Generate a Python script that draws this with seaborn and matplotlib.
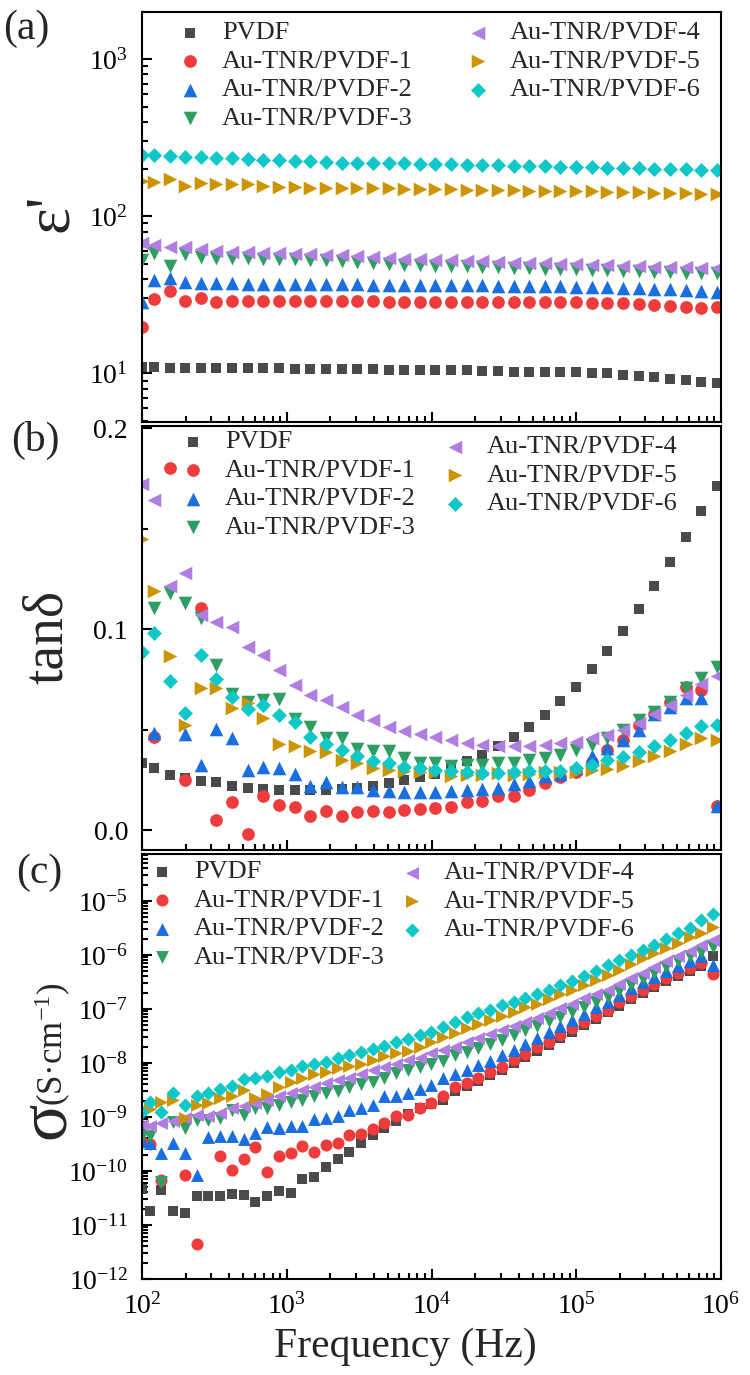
import numpy as np
import matplotlib
matplotlib.use('Agg')
import matplotlib.pyplot as plt
import seaborn as sns
from matplotlib.ticker import LogLocator, NullFormatter, MultipleLocator, FormatStrFormatter

# Sample names, colours and markers
names = ['PVDF', 'Au-TNR/PVDF-1', 'Au-TNR/PVDF-2', 'Au-TNR/PVDF-3',
         'Au-TNR/PVDF-4', 'Au-TNR/PVDF-5', 'Au-TNR/PVDF-6']
colors = ['#4a4a4a', '#ee3b3b', '#1a6fe0', '#2e9e62', '#b07ee0', '#cc9400', '#10c8c8']
markers = ['s', 'o', '^', 'v', '<', '>', 'D']

# Frequency grid for panels (a) and (b), Hz
freq_ab = [100, 121, 155, 199, 255, 327, 420, 538, 690, 885,
           1135, 1455, 1866, 2393, 3069, 3936, 5047, 6471, 8299, 10641,
           13646, 17498, 22439, 28774, 36898, 47315, 60674, 77804, 99770, 127938,
           164059, 210378, 269774, 345939, 443609, 568853, 729450, 935400]

# Frequency grid for panel (c), Hz
freq_c = [100, 113, 136, 164, 198, 238, 287, 346, 417, 503,
          606, 731, 881, 1062, 1280, 1542, 1858, 2242, 2702, 3258,
          3926, 4732, 5702, 6871, 8279, 9977, 12023, 14488, 17498, 21086,
          25410, 30620, 36898, 44463, 53580, 64565, 77804, 93756, 112980, 136458,
          164437, 198153, 238781, 287740, 346737, 417830, 503501, 606736, 731139, 881049]

# (a) dielectric constant
eps_pvdf = [11.0, 10.9, 10.8, 10.8, 10.8, 10.8, 10.8, 10.8, 10.8, 10.8,
            10.7, 10.7, 10.7, 10.7, 10.65, 10.6, 10.55, 10.5, 10.5, 10.5,
            10.5, 10.5, 10.3, 10.3, 10.25, 10.25, 10.2, 10.2, 10.2, 10.1,
            10.0, 9.76, 9.66, 9.51, 9.2, 9.06, 8.85, 8.64]
eps_1 = [19.7, 29.6, 33.6, 29.0, 30.4, 28.5, 29.0, 29.0, 29.0, 29.0,
         28.9, 28.9, 28.9, 28.8, 28.8, 28.8, 28.6, 28.6, 28.6, 28.6,
         28.6, 28.6, 28.6, 28.6, 28.5, 28.5, 28.5, 28.4, 28.3, 28.2,
         28.0, 27.9, 27.6, 27.2, 26.9, 26.5, 25.9, 26.5]
eps_2 = [28.6, 39.4, 40.4, 38.4, 37.5, 37.4, 37.4, 37.2, 37.2, 37.2,
         37.0, 37.0, 37.0, 36.9, 36.8, 36.6, 36.5, 36.5, 36.5, 36.4,
         36.4, 36.3, 36.3, 36.2, 36.1, 36.0, 35.9, 35.8, 35.6, 35.5,
         35.3, 35.0, 34.8, 34.5, 34.2, 33.9, 33.5, 33.1]
eps_3 = [52.7, 58.2, 48.3, 57.6, 54.9, 54.5, 54.3, 54.0, 53.8, 53.5,
         53.2, 53.0, 52.7, 52.0, 51.2, 50.5, 49.5, 49.2, 48.9, 48.6,
         48.3, 48.0, 47.7, 47.4, 47.1, 46.8, 46.5, 46.2, 45.9, 45.6,
         45.3, 45.0, 44.7, 44.4, 44.1, 43.8, 43.6, 43.4]
eps_4 = [67.5, 65.2, 63.6, 63.9, 61.8, 60.5, 59.6, 59.6, 58.7, 58.2,
         57.8, 57.5, 56.8, 56.3, 55.6, 54.8, 54.0, 53.6, 53.2, 52.8,
         52.4, 52.0, 51.6, 51.2, 50.8, 50.5, 50.1, 49.8, 49.4, 49.1,
         48.8, 48.5, 48.2, 47.9, 47.6, 47.3, 47.0, 46.6]
eps_5 = [168.6, 166, 171.9, 156, 162, 160, 160, 160, 156, 153.8,
         153.8, 152.5, 152.5, 150.5, 150.5, 150.5, 150.5, 150, 149.5, 149,
         148.5, 148, 147.5, 147, 146.5, 146, 145.5, 145, 144.5, 144,
         143, 142.5, 142, 141, 140.5, 140, 139, 138]
eps_6 = [245, 245, 242, 240, 238, 236, 234, 232, 230, 228,
         226, 224, 222, 220, 219, 218, 218, 217, 216, 215,
         214, 213, 212, 211, 210, 209, 208, 207, 206, 205,
         204, 203, 202, 201, 200, 199, 198, 197]

# (b) loss tangent
tan_pvdf = [0.0337, 0.0312, 0.0276, 0.0258, 0.0243, 0.0238, 0.0218, 0.021, 0.0205, 0.0202,
            0.0202, 0.0198, 0.0198, 0.0205, 0.021, 0.022, 0.0235, 0.0248, 0.0265, 0.028,
            0.031, 0.0342, 0.0375, 0.0417, 0.0463, 0.0516, 0.0574, 0.0643, 0.0714, 0.080,
            0.0893, 0.099, 0.110, 0.1215, 0.1336, 0.146, 0.1587, 0.1714]
tan_1 = [np.nan, 0.0466, 0.18, 0.0251, 0.1106, 0.0053, 0.0141, -0.0018, 0.0169, 0.0124,
         0.0116, 0.0073, 0.0094, 0.0073, 0.0089, 0.0094, 0.0089, 0.0103, 0.0106, 0.0111,
         0.0116, 0.0141, 0.0147, 0.0172, 0.0172, 0.0198, 0.0235, 0.0265, 0.029, 0.034,
         0.040, 0.045, 0.0524, 0.0579, 0.064, 0.0711, 0.0698, 0.0119]
tan_2 = [np.nan, 0.0483, np.nan, 0.0478, 0.0326, 0.0503, 0.0461, 0.0301, 0.0314, 0.0309,
         0.0281, 0.0222, 0.0238, 0.0213, 0.0213, 0.0202, 0.0193, 0.0188, 0.0188, 0.0188,
         0.0193, 0.0202, 0.0205, 0.021, 0.023, 0.0243, 0.027, 0.028, 0.031, 0.0367,
         0.0409, 0.045, 0.05, 0.058, 0.0615, 0.0656, 0.0656, 0.0119]
tan_3 = [np.nan, 0.1106, 0.118, 0.113, 0.1056, 0.082, 0.068, 0.064, 0.0648, 0.0651,
         0.0552, 0.0513, 0.0458, 0.0458, 0.0404, 0.0392, 0.0392, 0.0359, 0.0337, 0.0334,
         0.0321, 0.0326, 0.0326, 0.0334, 0.0337, 0.035, 0.036, 0.0375, 0.040, 0.0425,
         0.0458, 0.05, 0.0549, 0.059, 0.064, 0.0706, 0.0756, 0.0813]
tan_4 = [0.172, 0.164, 0.1215, 0.128, 0.107, 0.1036, 0.1011, 0.0909, 0.0871, 0.0797,
         0.0722, 0.0673, 0.0648, 0.0615, 0.0574, 0.0549, 0.0516, 0.0496, 0.0479, 0.0466,
         0.045, 0.0436, 0.0425, 0.042, 0.0417, 0.042, 0.0425, 0.0433, 0.0441, 0.0458,
         0.0474, 0.05, 0.0532, 0.058, 0.0623, 0.0673, 0.0727, 0.0767]
tan_5 = [0.1446, 0.119, 0.0866, 0.0524, 0.0706, 0.0706, 0.0607, 0.0632, 0.0557, 0.043,
         0.0421, 0.0392, 0.0387, 0.0347, 0.0337, 0.0309, 0.030, 0.0296, 0.0288, 0.0288,
         0.027, 0.0277, 0.0277, 0.0285, 0.0277, 0.0282, 0.0288, 0.0288, 0.0288, 0.030,
         0.0304, 0.0321, 0.0342, 0.0367, 0.0392, 0.043, 0.0461, 0.045]
tan_6 = [0.0888, 0.0979, 0.0744, 0.0585, 0.0871, 0.0751, 0.0664, 0.0602, 0.0623, 0.0574,
         0.054, 0.0466, 0.043, 0.040, 0.037, 0.0342, 0.0337, 0.0317, 0.0309, 0.030,
         0.0293, 0.0288, 0.0284, 0.0284, 0.0288, 0.0293, 0.0293, 0.0297, 0.031, 0.0326,
         0.0347, 0.0364, 0.0387, 0.0417, 0.045, 0.0486, 0.052, 0.0524]

# (c) conductivity, log10 of S/cm
logsig_pvdf = [-10.33, -10.74, -10.36, -10.74, -10.77, -10.46, -10.46, -10.46, -10.43, -10.44,
               -10.57, -10.46, -10.37, -10.40, -10.15, -10.11, -9.92, -9.77, -9.64, -9.49,
               -9.33, -9.20, -9.07, -8.95, -8.84, -8.76, -8.68, -8.51, -8.42, -8.34,
               -8.22, -8.13, -8.00, -7.89, -7.77, -7.66, -7.54, -7.42, -7.29, -7.19,
               -7.06, -6.94, -6.82, -6.71, -6.60, -6.49, -6.39, -6.30, -6.20, -6.02]
logsig_1 = [-9.46, -9.50, -10.17, np.nan, -10.07, -11.35, np.nan, -9.72, -9.99, -9.77,
            -9.55, -10.01, -9.72, -9.67, -9.54, -9.64, -9.52, -9.49, -9.33, -9.32,
            -9.23, -9.12, -8.99, -8.96, -8.84, -8.75, -8.62, -8.45, -8.37, -8.28,
            -8.16, -8.07, -7.95, -7.83, -7.71, -7.61, -7.48, -7.36, -7.24, -7.13,
            -7.01, -6.88, -6.76, -6.65, -6.54, -6.43, -6.33, -6.25, -6.14, -6.35]
logsig_2 = [-9.45, -9.48, -9.67, -9.49, -9.67, -10.07, -9.38, -9.35, -9.36, -9.40,
            -9.30, -9.18, -9.21, -9.17, -9.17, -9.04, -9.01, -8.98, -8.87, -8.84,
            -8.78, -8.62, -8.62, -8.56, -8.49, -8.40, -8.28, -8.20, -8.13, -8.04,
            -7.96, -7.85, -7.76, -7.65, -7.54, -7.42, -7.32, -7.20, -7.09, -6.97,
            -6.87, -6.74, -6.62, -6.51, -6.40, -6.29, -6.20, -6.12, -6.02, -6.19]
logsig_3 = [-9.36, -9.36, -10.20, -9.10, -9.21, -9.06, -9.06, -9.02, -8.87, -8.96,
            -8.84, -8.84, -8.78, -8.72, -8.69, -8.62, -8.56, -8.51, -8.45, -8.39,
            -8.35, -8.28, -8.19, -8.13, -8.07, -8.01, -7.96, -7.85, -7.79, -7.73,
            -7.65, -7.57, -7.48, -7.39, -7.32, -7.22, -7.14, -7.05, -6.96, -6.87,
            -6.77, -6.66, -6.56, -6.45, -6.34, -6.23, -6.12, -6.02, -5.94, -5.85]
logsig_4 = [-9.15, -9.17, -9.12, -9.07, -9.01, -8.96, -8.99, -8.92, -8.84, -8.80,
            -8.75, -8.69, -8.62, -8.56, -8.50, -8.45, -8.38, -8.31, -8.27, -8.20,
            -8.13, -8.07, -8.01, -7.94, -7.90, -7.82, -7.76, -7.70, -7.62, -7.54,
            -7.46, -7.39, -7.32, -7.24, -7.16, -7.08, -6.99, -6.90, -6.80, -6.72,
            -6.64, -6.53, -6.43, -6.33, -6.23, -6.12, -6.02, -5.92, -5.82, -5.72]
logsig_5 = [-8.90, -8.85, -8.72, -8.69, -9.02, -8.78, -8.74, -8.65, -8.61, -8.50,
            -8.64, -8.58, -8.45, -8.35, -8.28, -8.20, -8.16, -8.10, -8.06, -8.01,
            -7.94, -7.88, -7.81, -7.77, -7.70, -7.61, -7.51, -7.44, -7.36, -7.28,
            -7.20, -7.13, -7.05, -6.97, -6.90, -6.82, -6.72, -6.65, -6.56, -6.46,
            -6.37, -6.27, -6.17, -6.06, -5.97, -5.88, -5.77, -5.67, -5.59, -5.49]
logsig_6 = [-8.90, -8.72, -8.90, -8.56, -8.78, -8.62, -8.56, -8.49, -8.43, -8.30,
            -8.28, -8.24, -8.16, -8.13, -8.06, -8.01, -7.98, -7.91, -7.85, -7.79,
            -7.75, -7.69, -7.62, -7.56, -7.48, -7.42, -7.34, -7.25, -7.14, -7.08,
            -7.01, -6.93, -6.87, -6.80, -6.72, -6.64, -6.56, -6.48, -6.39, -6.29,
            -6.19, -6.09, -6.00, -5.91, -5.82, -5.71, -5.60, -5.51, -5.35, -5.24]

eps_all = [eps_pvdf, eps_1, eps_2, eps_3, eps_4, eps_5, eps_6]
tan_all = [tan_pvdf, tan_1, tan_2, tan_3, tan_4, tan_5, tan_6]
sig_all = [np.power(10.0, s) for s in
           [logsig_pvdf, logsig_1, logsig_2, logsig_3, logsig_4, logsig_5, logsig_6]]

sns.set_style('ticks')
plt.rcParams['font.family'] = ['Liberation Serif', 'DejaVu Serif']
plt.rcParams['mathtext.fontset'] = 'custom'
plt.rcParams['mathtext.rm'] = 'Liberation Serif'
plt.rcParams['mathtext.it'] = 'Liberation Serif:italic'
plt.rcParams['axes.unicode_minus'] = False

W, H = 750, 1375
fig = plt.figure(figsize=(7.5, 13.75), dpi=100)


def box(left, top, right, bottom):
    return [left / W, 1 - bottom / H, (right - left) / W, (bottom - top) / H]


def fpt(x, y):
    return (x / W, 1 - y / H)


ax_a = fig.add_axes(box(142, 12, 721, 422))
ax_b = fig.add_axes(box(142, 426, 721, 850))
ax_c = fig.add_axes(box(142, 854, 721, 1279))

# marker areas (pt^2) per marker type
sizes = {'s': 60, 'o': 84, '^': 96, 'v': 96, '<': 96, '>': 96, 'D': 58}

for ax, xs, data, scale in [(ax_a, freq_ab, eps_all, 1.0),
                            (ax_b, freq_ab, tan_all, 1.0),
                            (ax_c, freq_c, sig_all, 0.9)]:
    for name, col, mk, ys in zip(names, colors, markers, data):
        sns.scatterplot(x=xs, y=ys, marker=mk, color=col, s=sizes[mk] * scale,
                        linewidth=0, label=name, ax=ax, legend=False)

for ax in [ax_a, ax_b, ax_c]:
    ax.set_xscale('log')
    ax.set_xlim(100, 1e6)
    ax.xaxis.set_major_locator(LogLocator(base=10, numticks=10))
    ax.xaxis.set_minor_locator(LogLocator(base=10, subs=np.arange(2, 10), numticks=20))
    ax.xaxis.set_minor_formatter(NullFormatter())
    for sp in ax.spines.values():
        sp.set_linewidth(1.5)
        sp.set_color('black')
    ax.tick_params(which='both', direction='in', top=False, right=False,
                   width=1.5, labelsize=20, pad=10, colors='black')
    ax.tick_params(which='major', length=7)
    ax.tick_params(which='minor', length=4)
    ax.set_xlabel('')
    ax.set_ylabel('')

ax_a.tick_params(axis='x', labelbottom=False)
ax_b.tick_params(axis='x', labelbottom=False)

ax_a.set_yscale('log')
ax_a.set_ylim(4.9, 2000)
ax_a.yaxis.set_major_locator(LogLocator(base=10, numticks=10))
ax_a.yaxis.set_minor_locator(LogLocator(base=10, subs=np.arange(2, 10), numticks=20))
ax_a.yaxis.set_minor_formatter(NullFormatter())

ax_b.set_ylim(-0.0098, 0.201)
ax_b.yaxis.set_major_locator(MultipleLocator(0.1))
ax_b.yaxis.set_minor_locator(MultipleLocator(0.05))
ax_b.yaxis.set_major_formatter(FormatStrFormatter('%.1f'))

ax_c.set_yscale('log')
ax_c.set_ylim(1e-12, 7.4e-5)
ax_c.yaxis.set_major_locator(LogLocator(base=10, numticks=20))
ax_c.yaxis.set_minor_locator(LogLocator(base=10, subs=np.arange(2, 10), numticks=30))
ax_c.yaxis.set_minor_formatter(NullFormatter())
ax_c.tick_params(axis='x', pad=10)

# legends: two columns placed as separate legends
leg_opts = dict(loc='upper left', bbox_transform=fig.transFigure, frameon=False,
                fontsize=19, handlelength=1.0, handletextpad=0.71, labelspacing=0.19,
                borderpad=0, borderaxespad=0, scatterpoints=1)
for ax, left_anchor, right_anchor in [(ax_a, (177, 21), (465, 21)),
                                      (ax_b, (180, 430), (442, 435)),
                                      (ax_c, (149, 860), (399, 861))]:
    handles, labels = ax.get_legend_handles_labels()
    leg1 = ax.legend(handles[:4], labels[:4], bbox_to_anchor=fpt(*left_anchor), **leg_opts)
    ax.add_artist(leg1)
    ax.legend(handles[4:], labels[4:], bbox_to_anchor=fpt(*right_anchor), **leg_opts)

# axis titles
fig.text(*fpt(52, 213), "ε'", rotation=90, fontsize=46, ha='center', va='center')
fig.text(*fpt(48, 637), 'tanδ', rotation=90, fontsize=40, ha='center', va='center')
fig.text(*fpt(47, 1120), 'σ', rotation=90, fontsize=50, ha='center', va='center')
fig.text(*fpt(53, 1044), '(S·cm$^{-1}$)', rotation=90, fontsize=25, ha='center', va='center')
fig.text(*fpt(405, 1347), 'Frequency (Hz)', fontsize=30, ha='center', va='center')

# panel letters
fig.text(*fpt(3, 29), '(a)', fontsize=30, ha='left', va='center')
fig.text(*fpt(11, 440), '(b)', fontsize=30, ha='left', va='center')
fig.text(*fpt(16, 873), '(c)', fontsize=30, ha='left', va='center')

fig.savefig('out.png', dpi=100, facecolor='white')
